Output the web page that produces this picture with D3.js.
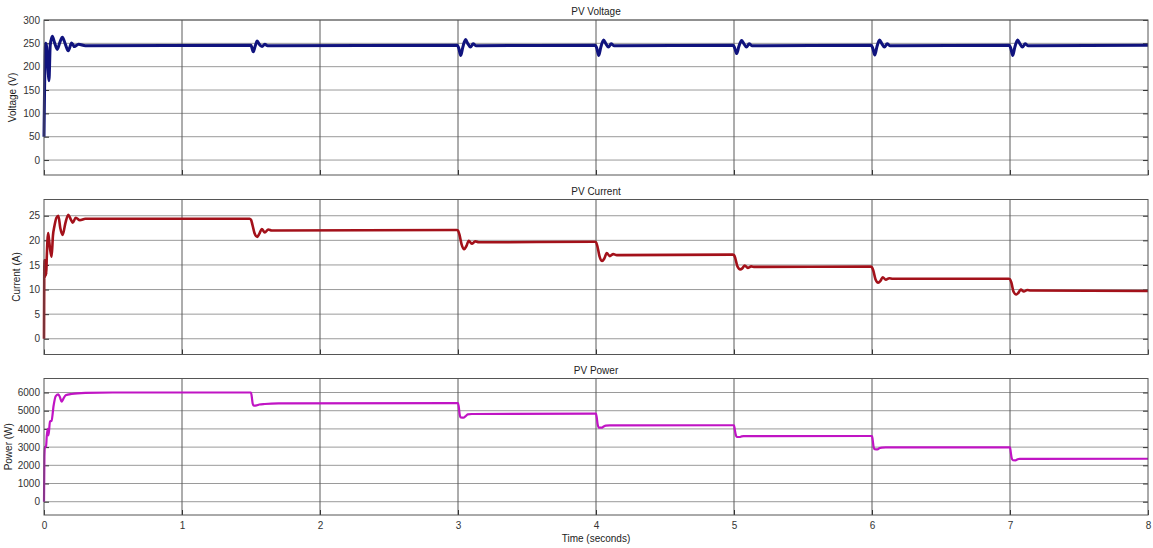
<!DOCTYPE html>
<html>
<head>
<meta charset="utf-8">
<script src="https://cdn.jsdelivr.net/npm/d3@7"></script>
<style>
  body { margin: 0; background: #fff; }
  svg { font-family: "Liberation Sans", Arial, sans-serif; }
  .tick text { fill: #333; }
</style>
</head>
<body>
<svg id="chart" width="1153" height="548"></svg>
<script>
// x ticks (seconds)
const timeTicks = [0, 1, 2, 3, 4, 5, 6, 7, 8];

// PV voltage [t, V]
const voltagePts = [
  [0, 50], [0.004, 150], [0.012, 250], [0.02, 240], [0.03, 190], [0.036, 170], [0.045, 245],
  [0.06, 265], [0.078, 250], [0.096, 237], [0.115, 252], [0.133, 263], [0.155, 248], [0.176, 234],
  [0.2, 251], [0.22, 243], [0.25, 248], [0.3, 245], [1.5, 246],
  [1.505, 242], [1.517, 232], [1.53, 244], [1.545, 255], [1.56, 248], [1.58, 243], [1.6, 248], [1.62, 245], [2.995, 246],
  [3.005, 240], [3.02, 224], [3.035, 242], [3.055, 258], [3.07, 250], [3.09, 242], [3.11, 249], [3.13, 245], [3.995, 246],
  [4.005, 240], [4.02, 224], [4.035, 242], [4.055, 257], [4.07, 250], [4.09, 242], [4.11, 249], [4.13, 245], [4.995, 246],
  [5.005, 240], [5.02, 228], [5.035, 243], [5.055, 256], [5.07, 250], [5.09, 242], [5.11, 249], [5.13, 245], [5.995, 246],
  [6.005, 240], [6.02, 225], [6.035, 242], [6.055, 257], [6.07, 250], [6.09, 242], [6.11, 249], [6.13, 245], [6.995, 246],
  [7.005, 240], [7.02, 224], [7.035, 242], [7.055, 257], [7.07, 250], [7.09, 242], [7.11, 249], [7.13, 245], [8, 246]
];

// PV current [t, A]
const currentPts = [
  [0, 0], [0.003, 16], [0.008, 12.5], [0.012, 16], [0.016, 13], [0.02, 16.5], [0.03, 21.5], [0.037, 20],
  [0.045, 18], [0.055, 16.7], [0.065, 21], [0.075, 22.8], [0.09, 24.6], [0.104, 25], [0.118, 22.5],
  [0.135, 21.1], [0.155, 23.5], [0.176, 25.2], [0.195, 24.2], [0.208, 23.6], [0.23, 24.6], [0.26, 24.1],
  [0.3, 24.4], [1.49, 24.4],
  [1.5, 24.2], [1.51, 23.2], [1.525, 21.5], [1.545, 20.7], [1.56, 21.3], [1.578, 22.3], [1.6, 21.6], [1.625, 22.2], [1.65, 22.0], [2.99, 22.1],
  [3.0, 22.0], [3.01, 21.2], [3.025, 19.3], [3.045, 18.2], [3.06, 18.8], [3.078, 19.9], [3.1, 19.3], [3.125, 19.8], [3.15, 19.6], [3.99, 19.7],
  [4.0, 19.6], [4.01, 18.8], [4.025, 16.8], [4.045, 15.8], [4.06, 16.3], [4.078, 17.4], [4.1, 16.8], [4.125, 17.2], [4.15, 17.0], [4.99, 17.1],
  [5.0, 17.0], [5.01, 16.3], [5.025, 14.7], [5.045, 14.1], [5.06, 14.3], [5.078, 14.9], [5.1, 14.4], [5.125, 14.7], [5.15, 14.6], [5.99, 14.65],
  [6.0, 14.5], [6.01, 13.8], [6.025, 12.1], [6.045, 11.4], [6.06, 11.7], [6.078, 12.5], [6.1, 12.0], [6.125, 12.3], [6.15, 12.2], [6.99, 12.2],
  [7.0, 12.1], [7.01, 11.4], [7.025, 9.6], [7.045, 9.0], [7.06, 9.3], [7.078, 10.0], [7.1, 9.6], [7.125, 9.9], [7.15, 9.8], [8, 9.7]
];

// PV power [t, W]
const powerPts = [
  [0, 0], [0.003, 2500], [0.007, 3000], [0.015, 3050], [0.02, 3600], [0.027, 4000], [0.033, 3650],
  [0.043, 4400], [0.055, 4450], [0.07, 5300], [0.085, 5800], [0.104, 5900], [0.115, 5750], [0.128, 5500],
  [0.14, 5650], [0.157, 5850], [0.2, 5920], [0.3, 5975], [0.5, 6000], [1.5, 6000],
  [1.505, 5800], [1.512, 5400], [1.52, 5275], [1.54, 5290], [1.56, 5340], [1.6, 5370], [1.7, 5400], [2.99, 5420],
  [3.0, 5420], [3.005, 5250], [3.012, 4800], [3.02, 4630], [3.04, 4620], [3.055, 4700], [3.07, 4800], [3.1, 4820], [3.99, 4835],
  [4.0, 4835], [4.005, 4650], [4.012, 4250], [4.02, 4070], [4.04, 4066], [4.055, 4130], [4.07, 4180], [4.1, 4190], [4.99, 4200],
  [5.0, 4200], [5.005, 4000], [5.012, 3700], [5.02, 3560], [5.04, 3555], [5.055, 3590], [5.07, 3600], [5.1, 3605], [5.99, 3610],
  [6.0, 3610], [6.005, 3400], [6.012, 3000], [6.02, 2890], [6.04, 2880], [6.055, 2950], [6.07, 2975], [6.1, 2985], [6.99, 2990],
  [7.0, 2990], [7.005, 2750], [7.012, 2400], [7.02, 2280], [7.04, 2275], [7.055, 2330], [7.07, 2350], [7.1, 2355], [8, 2360]
];

const voltageTicks = [0, 50, 100, 150, 200, 250, 300];
const currentTicks = [0, 5, 10, 15, 20, 25];
const powerTicks = [0, 1000, 2000, 3000, 4000, 5000, 6000];

const left = 44, right = 1148;
const svg = d3.select("#chart");

const x = d3.scaleLinear().domain([0, 8]).range([left, right]);

const panels = [
  { title: "PV Voltage", label: "Voltage (V)", pts: voltagePts, ticks: voltageTicks,
    domain: [-32, 300], top: 20, bottom: 175, color: "#10137e", width: 3, labelX: 16 },
  { title: "PV Current", label: "Current (A)", pts: currentPts, ticks: currentTicks,
    domain: [-3.2, 28.3], top: 199.5, bottom: 354.5, color: "#a3111a", width: 2.6, labelX: 20 },
  { title: "PV Power", label: "Power (W)", pts: powerPts, ticks: powerTicks,
    domain: [-730, 6770], top: 378.5, bottom: 515, color: "#c014c4", width: 2.2, labelX: 12 }
];

panels.forEach((p, idx) => {
  const y = d3.scaleLinear().domain(p.domain).range([p.bottom, p.top]);
  const g = svg.append("g");

  // horizontal grid
  g.selectAll("line.hgrid")
    .data(p.ticks)
    .enter().append("line")
    .attr("x1", left).attr("x2", right)
    .attr("y1", d => y(d)).attr("y2", d => y(d))
    .attr("stroke", "#9a9a9a").attr("stroke-width", 1);

  // vertical grid
  g.selectAll("line.vgrid")
    .data(timeTicks.slice(1, -1))
    .enter().append("line")
    .attr("x1", d => x(d)).attr("x2", d => x(d))
    .attr("y1", p.top).attr("y2", p.bottom)
    .attr("stroke", "#5a5a5a").attr("stroke-width", 1);

  // y axis, ticks inward
  const yAxis = d3.axisLeft(y).tickValues(p.ticks).tickSize(-5).tickPadding(4)
    .tickFormat(d3.format("d"));
  const ya = g.append("g").attr("transform", `translate(${left},0)`).call(yAxis);
  ya.select(".domain").remove();
  ya.selectAll("line").attr("stroke", "#333");
  ya.selectAll("text").attr("font-size", 10);

  const yAxisR = d3.axisRight(y).tickValues(p.ticks).tickSize(-5).tickFormat("");
  const yr = g.append("g").attr("transform", `translate(${right},0)`).call(yAxisR);
  yr.select(".domain").remove();
  yr.selectAll("line").attr("stroke", "#333");

  // x axis
  const xAxis = d3.axisBottom(x).tickValues(timeTicks).tickSize(-5).tickPadding(7)
    .tickFormat(idx === 2 ? d3.format("d") : "");
  const xa = g.append("g").attr("transform", `translate(0,${p.bottom})`).call(xAxis);
  xa.select(".domain").remove();
  xa.selectAll("line").attr("stroke", "#333");
  xa.selectAll("text").attr("font-size", 10);

  // data line
  const line = d3.line()
    .x(d => x(d[0]))
    .y(d => y(d[1]))
    .curve(d3.curveMonotoneX);

  g.append("path")
    .datum(p.pts)
    .attr("fill", "none")
    .attr("stroke", p.color)
    .attr("stroke-width", p.width)
    .attr("stroke-linejoin", "round")
    .attr("d", line);

  // frame
  g.append("rect")
    .attr("x", left).attr("y", p.top)
    .attr("width", right - left).attr("height", p.bottom - p.top)
    .attr("fill", "none").attr("stroke", "#555").attr("stroke-width", 1);

  // title
  g.append("text")
    .attr("x", (left + right) / 2).attr("y", p.top - 5)
    .attr("text-anchor", "middle")
    .attr("font-size", 10).attr("fill", "#222")
    .text(p.title);

  // y label
  g.append("text")
    .attr("transform", `translate(${p.labelX},${(p.top + p.bottom) / 2}) rotate(-90)`)
    .attr("text-anchor", "middle")
    .attr("font-size", 10).attr("fill", "#222")
    .text(p.label);
});

svg.append("text")
  .attr("x", (left + right) / 2).attr("y", 542)
  .attr("text-anchor", "middle")
  .attr("font-size", 10).attr("fill", "#222")
  .text("Time (seconds)");
</script>
</body>
</html>
